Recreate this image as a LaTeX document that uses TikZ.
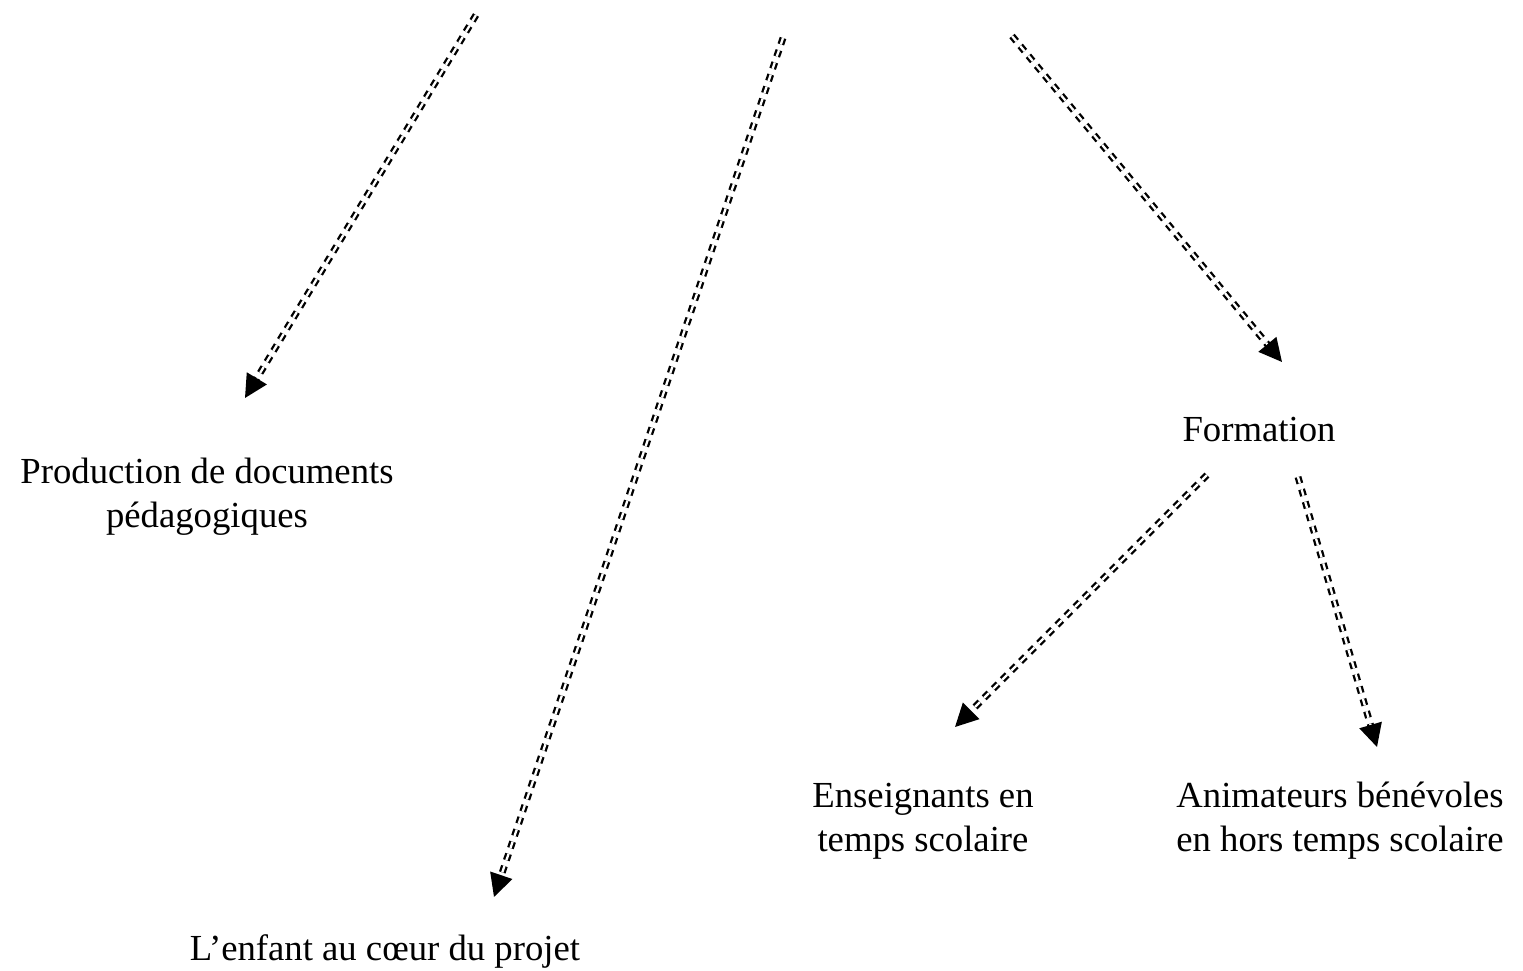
\documentclass[tikz,border=0pt]{standalone}
\usepackage{fontspec}
\setmainfont{Liberation Serif}
\usetikzlibrary{arrows.meta}
\tikzset{
    dblarrow/.style={
        double, double distance=0.75pt, line width=0.75pt,
        dash pattern=on 2.2pt off 2pt,
        -{Triangle[length=7.5pt, width=7.5pt]}
    }, % double dashed arrow
    label/.style={align=center, inner sep=0pt,
        font=\fontsize{12}{14.3}\selectfont},  % text of a box
}

\begin{document}
\begin{tikzpicture}[x=0.01149cm, y=-0.01149cm]
        \useasboundingbox (0, 0) rectangle (1523, 971);
        \node[label] (prod) at (207, 497) {Production de documents\\p\'edagogiques};
        \node[label] (form) at (1259, 430) {Formation};
        \node[label] (enfant) at (385, 951) {L'enfant au c\oe ur du projet};
        \node[label] (ens) at (923, 821) {Enseignants en\\temps scolaire};
        \node[label] (anim) at (1340, 821) {Animateurs b\'en\'evoles\\en hors temps scolaire};
        \coordinate (s1) at (476, 15);
        \coordinate (t1) at (245, 398);
        \coordinate (s2) at (783, 38);
        \coordinate (t2) at (494, 897);
        \coordinate (s3) at (1012, 36);
        \coordinate (t3) at (1282, 362);
        \coordinate (s4) at (1207, 475);
        \coordinate (t4) at (955, 727);
        \coordinate (s5) at (1298, 477);
        \coordinate (t5) at (1377, 747);
        \draw[dblarrow] (s1) -- (t1);
        \draw[dblarrow] (s2) -- (t2);
        \draw[dblarrow] (s3) -- (t3);
        \draw[dblarrow] (s4) -- (t4);
        \draw[dblarrow] (s5) -- (t5);
    \end{tikzpicture}
\end{document}
